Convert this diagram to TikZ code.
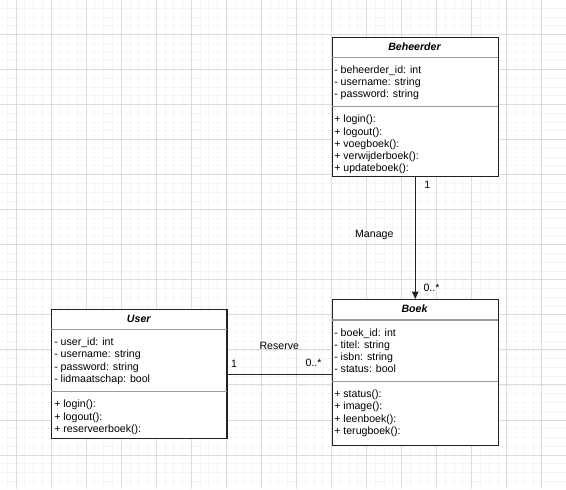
\documentclass[tikz,border=0pt]{standalone}
\usepackage{fontspec}
\setmainfont{Liberation Sans}
\usetikzlibrary{arrows.meta}
\definecolor{gridminor}{HTML}{F5F5F5}
\definecolor{gridmajor}{HTML}{DCDCDC}
\definecolor{border}{HTML}{222222}
\definecolor{sepcol}{HTML}{9A9A9A}
\begin{document}
\begin{tikzpicture}[x=0.75pt,y=-0.75pt,
  umlbox/.style={draw=border, line width=1.1pt, anchor=north west, inner sep=0, fill=white},
  septhin/.style={draw=sepcol, line width=0.8pt},
  member/.style={font=\fontsize{7.95}{9}\selectfont, anchor=base west, inner sep=0},
  classtitle/.style={font=\fontsize{7.95}{9}\selectfont\bfseries\itshape, anchor=base, inner sep=0},
  edgelabel/.style={font=\fontsize{7.95}{9}\selectfont, anchor=base, inner sep=0},
  connector/.style={draw=border, line width=0.85pt}
]
% background and bounding box
\fill[white] (0,0) rectangle (566,489);
\useasboundingbox (0,0) rectangle (566,489);
% grid
\foreach \k in {-2,...,64} {
  \draw[gridminor, line width=0.6pt] ({-19.05+8.7625*\k},0) -- ({-19.05+8.7625*\k},489);
  \draw[gridminor, line width=0.6pt] (0,{-0.6+8.7625*\k}) -- (566,{-0.6+8.7625*\k});
}
\foreach \k in {0,...,16} {
  \draw[gridmajor, line width=0.7pt] ({-19.05+35.05*\k},0) -- ({-19.05+35.05*\k},489);
  \draw[gridmajor, line width=0.7pt] (0,{-0.6+35.05*\k}) -- (566,{-0.6+35.05*\k});
}

% ---- Beheerder
\node[umlbox, minimum width=124.5pt, minimum height=104.6pt] (beh) at (331.5,36.5) {};
\draw[septhin] (331.5,57.5) -- (497.5,57.5);
\draw[septhin] (331.5,106.5) -- (497.5,106.5);
\node[classtitle] (behT) at (414.5,50) {Beheerder};
\node[member] (beh1) at (334,73) {- beheerder\_id: int};
\node[member] (beh2) at (334,85.2) {- username: string};
\node[member] (beh3) at (334,97.4) {- password: string};
\node[member] (beh4) at (334,122.8) {+ login():};
\node[member] (beh5) at (334,135) {+ logout():};
\node[member] (beh6) at (334,147.2) {+ voegboek():};
\node[member] (beh7) at (334,159.4) {+ verwijderboek():};
\node[member] (beh8) at (334,171.6) {+ updateboek():};

% ---- Boek
\node[umlbox, minimum width=124.5pt, minimum height=109.5pt] (boek) at (331.5,299) {};
\draw[septhin] (331.5,320) -- (497.5,320);
\draw[septhin] (331.5,381.5) -- (497.5,381.5);
\node[classtitle] (boekT) at (414.5,312) {Boek};
\node[member] (boek1) at (334,336.1) {- boek\_id: int};
\node[member] (boek2) at (334,348.2) {- titel: string};
\node[member] (boek3) at (334,360.3) {- isbn: string};
\node[member] (boek4) at (334,372.4) {- status: bool};
\node[member] (boek5) at (334,397.8) {+ status():};
\node[member] (boek6) at (334,409.9) {+ image():};
\node[member] (boek7) at (334,422) {+ leenboek():};
\node[member] (boek8) at (334,434.3) {+ terugboek():};

% ---- User
\node[umlbox, minimum width=131.6pt, minimum height=96.4pt] (user) at (51,309) {};
\draw[septhin] (51,329.3) -- (226.5,329.3);
\draw[septhin] (51,391.5) -- (226.5,391.5);
\node[classtitle] (userT) at (138.75,322.1) {User};
\node[member] (user1) at (54,345.5) {- user\_id: int};
\node[member] (user2) at (54,357.8) {- username: string};
\node[member] (user3) at (54,370.1) {- password: string};
\node[member] (user4) at (54,382.4) {- lidmaatschap: bool};
\node[member] (user5) at (54,407.8) {+ login():};
\node[member] (user6) at (54,420) {+ logout():};
\node[member] (user7) at (54,432.2) {+ reserveerboek():};

% ---- connectors
\draw[connector, -{Triangle[length=5.6pt,width=4.9pt]}] (beh.south) -- (boek.north);
\coordinate (resA) at ([yshift=-0.6pt]user.east);
\draw[connector] (resA) -- (resA -| boek.west);

% ---- labels
\node[edgelabel] (l1) at (427.3,188.8) {1};
\node[edgelabel] (lManage) at (374.3,237) {Manage};
\node[edgelabel] (l2) at (431.5,291) {0..*};
\node[edgelabel] (lReserve) at (279.3,349.8) {Reserve};
\node[edgelabel] (l3) at (234,367) {1};
\node[edgelabel] (l4) at (313.5,366.8) {0..*};
\end{tikzpicture}
\end{document}
